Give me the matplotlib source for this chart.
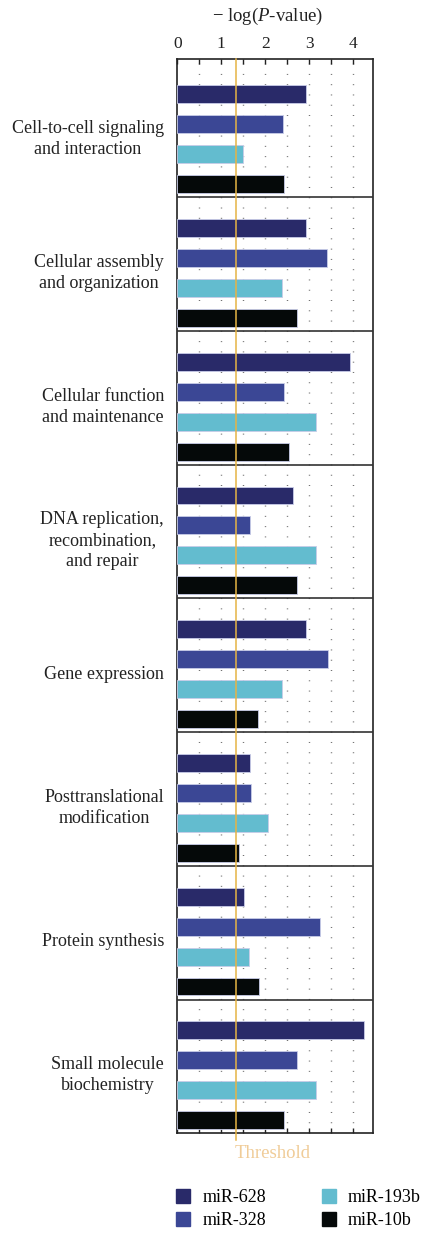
import matplotlib
matplotlib.use("Agg")
import matplotlib.pyplot as plt
from matplotlib.lines import Line2D
import matplotlib.transforms as mtransforms

plt.rcParams['font.family'] = ['Liberation Serif', 'DejaVu Serif']
plt.rcParams['mathtext.fontset'] = 'custom'
plt.rcParams['mathtext.rm'] = 'Liberation Serif'
plt.rcParams['mathtext.it'] = 'Liberation Serif:italic'

# categories and -log(P) values
categories = [
    "Cell-to-cell signaling\nand interaction",
    "Cellular assembly\nand organization",
    "Cellular function\nand maintenance",
    "DNA replication,\nrecombination,\nand repair",
    "Gene expression",
    "Posttranslational\nmodification",
    "Protein synthesis",
    "Small molecule\nbiochemistry",
]
series = ["miR-628", "miR-328", "miR-193b", "miR-10b"]
mir628 = [2.93, 2.93, 3.93, 2.64, 2.93, 1.66, 1.51, 4.25]
mir328 = [2.41, 3.40, 2.42, 1.66, 3.43, 1.67, 3.25, 2.72]
mir193b = [1.49, 2.38, 3.16, 3.16, 2.39, 2.07, 1.63, 3.16]
mir10b = [2.42, 2.72, 2.54, 2.72, 1.83, 1.41, 1.86, 2.42]
threshold = 1.33

colors = ["#292a69", "#3b4795", "#63bccf", "#050909"]
values = [mir628, mir328, mir193b, mir10b]

fig = plt.figure(figsize=(4.31, 12.36), dpi=100)
ax = fig.add_axes([0.4114, 0.0831, 0.4533, 0.8689])

panel = 134 / 30.0   # height of one category block (in bar slots)
bar_h = 0.6
first = 1.03

for j, (name, vals, c) in enumerate(zip(series, values, colors)):
    ys = [i * panel + first + j for i in range(len(categories))]
    ax.barh(ys, vals, height=bar_h, color=c, edgecolor='#c8cce8', linewidth=0.6,
            zorder=3, label=name)

# category labels
for i, cat in enumerate(categories):
    yc = i * panel + first + 1.5
    ax.text(-0.3, yc, cat, ha='right', va='center', multialignment='center',
            fontsize=13, color='#222222', linespacing=1.3)

# dotted grid
for x in [0.5, 1, 1.5, 2, 2.5, 3, 3.5, 4]:
    ax.axvline(x, color='#707070', lw=1.0, linestyle=(0, (0.7, 6.7)), zorder=1)

# panel dividers
for i in range(1, len(categories)):
    ax.axhline(i * panel, color='#333333', lw=1.2, zorder=4)

# threshold line, running a little past the bottom
trans = mtransforms.blended_transform_factory(ax.transData, ax.transAxes)
ax.plot([threshold, threshold], [1.0, -0.0065], transform=trans, color='#e6b445',
        lw=1.1, zorder=5, clip_on=False)
ax.text(threshold - 0.02, -0.0185, "Threshold", transform=trans, ha='left', va='center',
        fontsize=13.5, color='#f0cc98')

ax.set_xlim(0, 4.44)
ax.set_ylim(8 * panel, -0.14)

ax.xaxis.tick_top()
ax.set_xticks([0, 1, 2, 3, 4])
ax.set_xticks([0.5, 1.5, 2.5, 3.5], minor=True)
ax.tick_params(axis='x', which='both', direction='in', length=3.5, width=1,
               top=True, bottom=True, labelsize=12.5, pad=5, colors='#222222')
ax.tick_params(axis='y', left=False, labelleft=False)
ax.xaxis.set_label_position('top')
ax.set_xlabel(r"$-$ log($P$-value)", fontsize=13.5, color='#222222')
ax.xaxis.set_label_coords(0.464, 1.036)

for s in ax.spines.values():
    s.set_linewidth(1.2)
    s.set_color('#222222')

handles = [Line2D([], [], marker='s', linestyle='none', markersize=9.5,
                  markerfacecolor=c, markeredgecolor=c) for c in colors]
fig.legend(handles, series, ncol=2, loc='upper left', bbox_to_anchor=(0.369, 0.051),
           frameon=False, fontsize=13, handlelength=0.9, handletextpad=0.6,
           columnspacing=3.05, labelspacing=0.34, borderpad=0.4)

fig.savefig("out.png", dpi=100)
